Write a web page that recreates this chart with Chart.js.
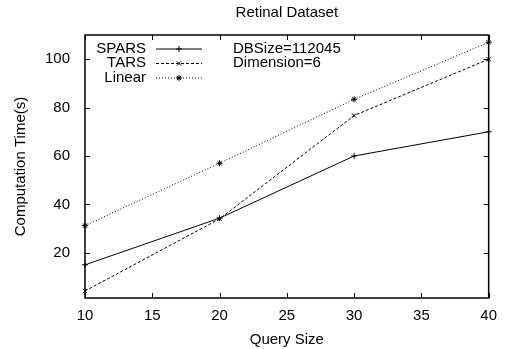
<!DOCTYPE html>
<html><head><meta charset="utf-8">
<script src="https://cdn.jsdelivr.net/npm/chart.js@4/dist/chart.umd.min.js"></script>
<style>html,body{margin:0;padding:0;background:#fff;}canvas{display:block}</style>
</head><body>
<canvas id="c" width="506" height="349"></canvas>
<script>
const querySizes = [10, 20, 30, 40];
const spars = [15, 34.3, 60, 70];
const tars = [4.2, 34, 76.7, 100];
const linear = [31.2, 57, 83.4, 107];
const seriesNames = ['SPARS', 'TARS', 'Linear'];
const xTicks = [10, 15, 20, 25, 30, 35, 40];
const yTicks = [20, 40, 60, 80, 100];
const annotations = ['DBSize=112045', 'Dimension=6'];
const titleText = 'Retinal Dataset';
const xTitle = 'Query Size';
const yTitle = 'Computation Time(s)';

const FONT = "'Liberation Sans', Arial, Helvetica, sans-serif";
const styles = [
  {dash: [], point: 'cross'},
  {dash: [3, 2], point: 'crossRot'},
  {dash: [1, 2], point: 'star'}
];
const values = [spars, tars, linear];
const datasets = values.map((vals, i) => ({
  label: seriesNames[i],
  data: querySizes.map((x, j) => ({x: x, y: vals[j]})),
  borderColor: '#000', backgroundColor: '#000',
  borderWidth: 1, borderDash: styles[i].dash,
  pointStyle: styles[i].point, pointRadius: 3, pointBorderWidth: 1,
  pointBorderColor: '#000', pointBackgroundColor: '#000',
  tension: 0, fill: false, clip: false
}));

function drawMarker(ctx, style, x, y, r) {
  ctx.beginPath();
  if (style === 'cross' || style === 'star') {
    ctx.moveTo(x - r, y); ctx.lineTo(x + r, y);
    ctx.moveTo(x, y - r); ctx.lineTo(x, y + r);
  }
  if (style === 'crossRot' || style === 'star') {
    const d = r * 0.7071;
    ctx.moveTo(x - d, y - d); ctx.lineTo(x + d, y + d);
    ctx.moveTo(x - d, y + d); ctx.lineTo(x + d, y - d);
  }
  ctx.stroke();
}

const framePlugin = {
  id: 'frame',
  afterDatasetsDraw(chart) {
    const {ctx, chartArea: a, scales: {x, y}} = chart;
    ctx.save();
    ctx.strokeStyle = '#000';
    ctx.setLineDash([]);
    ctx.lineWidth = 1;
    const L = 5;
    ctx.beginPath();
    xTicks.forEach(v => {
      const px = Math.round(x.getPixelForValue(v)) + 0.5;
      ctx.moveTo(px, a.bottom); ctx.lineTo(px, a.bottom - L);
      ctx.moveTo(px, a.top); ctx.lineTo(px, a.top + L);
    });
    yTicks.forEach(v => {
      const py = Math.round(y.getPixelForValue(v)) + 0.5;
      ctx.moveTo(a.left, py); ctx.lineTo(a.left + L, py);
      ctx.moveTo(a.right, py); ctx.lineTo(a.right - L, py);
    });
    ctx.stroke();
    ctx.lineWidth = 1.5;
    ctx.strokeRect(a.left, a.top, a.right - a.left, a.bottom - a.top);

    // key
    ctx.font = '15px ' + FONT;
    ctx.fillStyle = '#000';
    ctx.textBaseline = 'middle';
    const rowY = [a.top + 13.5, a.top + 28, a.top + 42.5];
    seriesNames.forEach((name, i) => {
      ctx.textAlign = 'right';
      ctx.fillText(name, a.left + 61, rowY[i]);
      ctx.lineWidth = 1;
      ctx.setLineDash(styles[i].dash);
      ctx.beginPath();
      ctx.moveTo(a.left + 71, rowY[i] + 0.5);
      ctx.lineTo(a.left + 117, rowY[i] + 0.5);
      ctx.stroke();
      ctx.setLineDash([]);
      drawMarker(ctx, styles[i].point, a.left + 94, rowY[i] + 0.5, 3);
    });
    ctx.textAlign = 'left';
    annotations.forEach((t, i) => ctx.fillText(t, a.left + 148, rowY[i]));
    ctx.restore();
  }
};

Chart.defaults.font.family = FONT;
Chart.defaults.font.size = 15;
Chart.defaults.color = '#000';

new Chart(document.getElementById('c'), {
  type: 'line',
  data: {datasets: datasets},
  options: {
    responsive: false, animation: false, devicePixelRatio: 1,
    layout: {padding: {left: 0, right: 17, top: 0, bottom: 0}},
    plugins: {
      legend: {display: false}, tooltip: {enabled: false},
      title: {display: true, text: titleText, color: '#000', fullSize: false,
        font: {size: 15, weight: 'normal', family: FONT},
        padding: {top: 4, bottom: 13}}
    },
    scales: {
      x: {
        type: 'linear', min: 10, max: 40,
        grid: {display: false, drawTicks: false}, border: {display: false},
        afterBuildTicks: s => { s.ticks = xTicks.map(v => ({value: v})); },
        afterFit: s => { s.height = 51; },
        ticks: {autoSkip: false, maxRotation: 0, padding: 9, color: '#000', font: {size: 15}},
        title: {display: true, text: xTitle, color: '#000', font: {size: 15}, padding: {top: 2, bottom: 0}}
      },
      y: {
        type: 'linear', min: 1.3, max: 110,
        grid: {display: false, drawTicks: false}, border: {display: false},
        afterBuildTicks: s => { s.ticks = yTicks.map(v => ({value: v})); },
        afterFit: s => { s.width = 85; },
        ticks: {autoSkip: false, padding: 15, color: '#000', font: {size: 15}},
        title: {display: true, text: yTitle, color: '#000', font: {size: 15}, padding: {top: 12, bottom: 0}}
      }
    }
  },
  plugins: [framePlugin]
});
</script>
</body></html>
